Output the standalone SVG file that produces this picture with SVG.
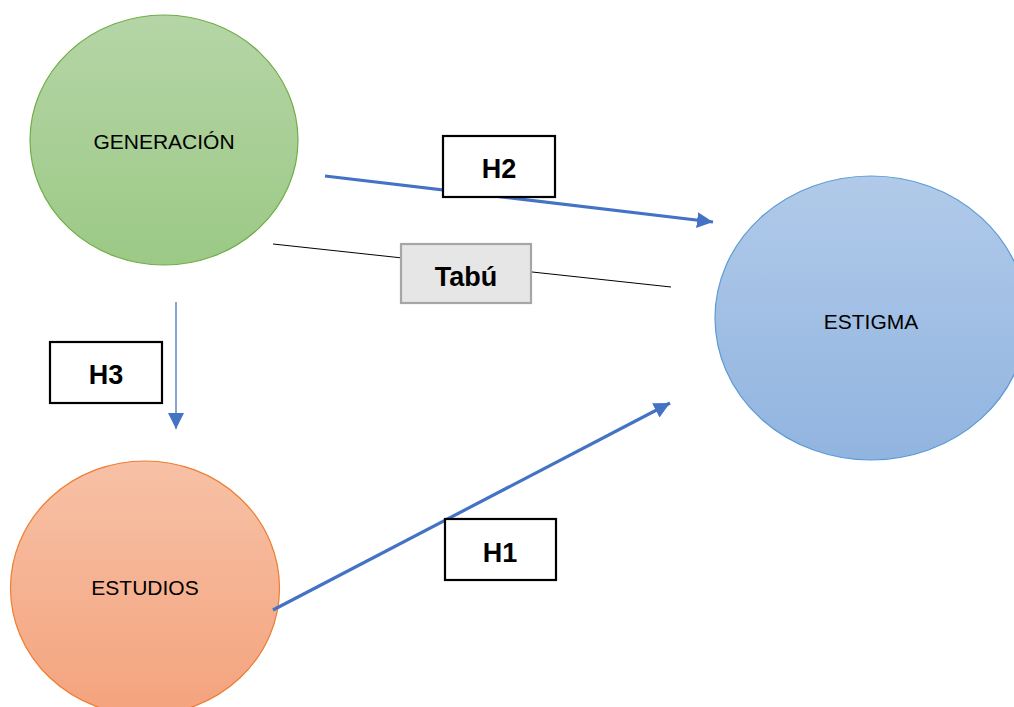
<svg xmlns="http://www.w3.org/2000/svg" width="1014" height="707" viewBox="0 0 1014 707">
<style>
.node-text{font-family:"Liberation Sans",Arial,sans-serif;font-size:21px;fill:#000;text-anchor:middle}
.lbl{font-family:"Liberation Sans",Arial,sans-serif;font-size:27px;font-weight:bold;fill:#000;text-anchor:middle}
.box{fill:#fff;stroke:#000;stroke-width:2.2}
.blue{stroke:#4472c4;fill:none}
</style>
<defs>
<linearGradient id="gGreen" x1="0" y1="0" x2="0" y2="1"><stop offset="0" stop-color="#b5d5a6"/><stop offset="1" stop-color="#9cc986"/></linearGradient>
<linearGradient id="gBlue" x1="0" y1="0" x2="0" y2="1"><stop offset="0" stop-color="#b1cae9"/><stop offset="1" stop-color="#91b4e0"/></linearGradient>
<linearGradient id="gOrange" x1="0" y1="0" x2="0" y2="1"><stop offset="0" stop-color="#f7c1a6"/><stop offset="1" stop-color="#f4a37d"/></linearGradient>
<marker id="arr" viewBox="0 0 10 10" refX="10" refY="5" markerWidth="16" markerHeight="16" markerUnits="userSpaceOnUse" orient="auto"><path d="M0,0 L10,5 L0,10 Z" fill="#4472c4"/></marker>
</defs>
<rect width="1014" height="707" fill="#fff"/>
<g id="generacion">
<ellipse cx="164" cy="140" rx="134" ry="125" fill="url(#gGreen)" stroke="#70ad47" stroke-width="1.2"/>
<text class="node-text" x="164" y="149">GENERACIÓN</text>
</g>
<g id="estigma">
<ellipse cx="871" cy="318" rx="156" ry="142" fill="url(#gBlue)" stroke="#5b9bd5" stroke-width="1.2"/>
<text class="node-text" x="871" y="329">ESTIGMA</text>
</g>
<g id="estudios">
<ellipse cx="145" cy="588" rx="134.5" ry="127" fill="url(#gOrange)" stroke="#ed7d31" stroke-width="1.2"/>
<text class="node-text" x="145" y="595">ESTUDIOS</text>
</g>
<g id="connectors">
<line class="blue" x1="325" y1="176" x2="713" y2="222" stroke-width="3.2" marker-end="url(#arr)"/>
<line x1="273" y1="244" x2="671" y2="287" stroke="#000" stroke-width="1"/>
<line class="blue" x1="176" y1="302" x2="176" y2="429" stroke-width="1.3" marker-end="url(#arr)"/>
<line class="blue" x1="273" y1="610" x2="670" y2="403" stroke-width="3.2" marker-end="url(#arr)"/>
</g>
<g id="label-h2">
<rect class="box" x="443" y="136" width="112" height="61"/>
<text class="lbl" x="499" y="178">H2</text>
</g>
<g id="label-tabu">
<rect x="401" y="244" width="130" height="59" fill="#e6e6e6" stroke="#a6a6a6" stroke-width="2.2"/>
<text class="lbl" x="466" y="286">Tabú</text>
</g>
<g id="label-h3">
<rect class="box" x="50" y="342" width="112" height="61"/>
<text class="lbl" x="106" y="384">H3</text>
</g>
<g id="label-h1">
<rect class="box" x="445" y="519" width="111" height="61"/>
<text class="lbl" x="500" y="562">H1</text>
</g>
</svg>
